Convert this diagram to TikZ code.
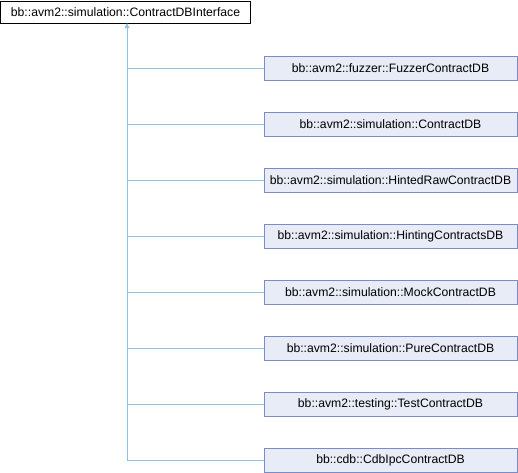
\documentclass[tikz,border=0pt]{standalone}
\usepackage{fontspec}
\setmainfont{Liberation Sans}
\usetikzlibrary{arrows.meta}
\definecolor{edgeblue}{RGB}{140,195,230}
\definecolor{boxfill}{RGB}{232,236,246}
\definecolor{boxline}{RGB}{120,140,200}
\tikzset{
  base/.style={draw=black, fill=white, minimum width=250pt, minimum height=22pt, inner sep=0pt, font=\fontsize{12.2}{14}\selectfont},
  derived/.style={draw=boxline, fill=boxfill, minimum width=253pt, minimum height=24pt, inner sep=0pt, font=\fontsize{12.2}{14}\selectfont},
  inherit/.style={edgeblue, line width=0.8pt}
}
\begin{document}
\begin{tikzpicture}[x=1pt, y=-1pt]
  \useasboundingbox (0,0) rectangle (518,472);
  \node[base] (I) at (125.5,12) {bb::avm2::simulation::ContractDBInterface};
  \node[derived] (D1) at (390.5,68) {bb::avm2::fuzzer::FuzzerContractDB};
  \node[derived] (D2) at (390.5,124) {bb::avm2::simulation::ContractDB};
  \node[derived] (D3) at (390.5,180) {bb::avm2::simulation::HintedRawContractDB};
  \node[derived] (D4) at (390.5,236) {bb::avm2::simulation::HintingContractsDB};
  \node[derived] (D5) at (390.5,292) {bb::avm2::simulation::MockContractDB};
  \node[derived] (D6) at (390.5,348) {bb::avm2::simulation::PureContractDB};
  \node[derived] (D7) at (390.5,404) {bb::avm2::testing::TestContractDB};
  \node[derived] (D8) at (390.5,460) {bb::cdb::CdbIpcContractDB};

  \coordinate (J) at (127,460);
  \draw[inherit, -{Triangle[length=5pt, width=5pt]}] (J) -- (I.south -| J);
  \foreach \i in {1,...,8}
    \draw[inherit] (D\i.west) -- (D\i.west -| J);
\end{tikzpicture}
\end{document}
